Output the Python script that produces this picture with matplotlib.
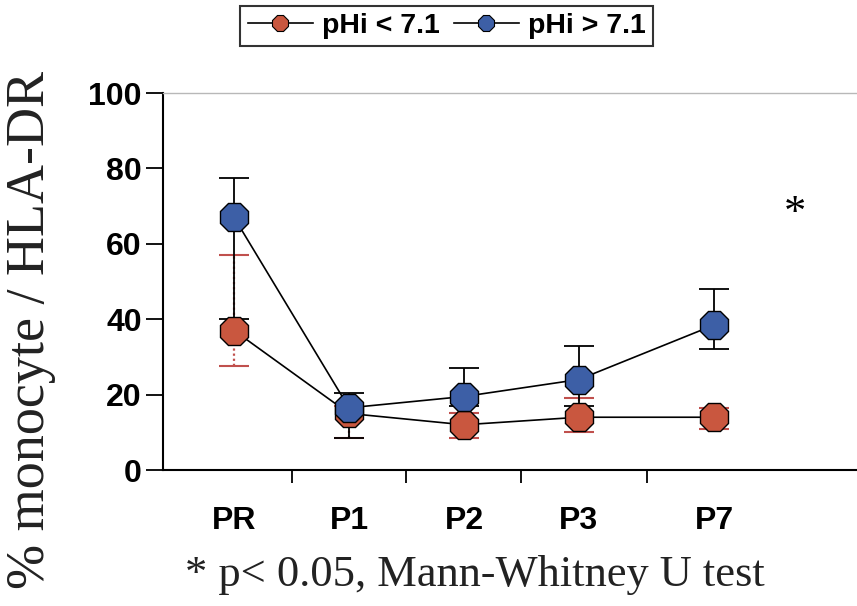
import numpy as np
import matplotlib.pyplot as plt
from matplotlib.lines import Line2D

# sampling days and group values (% monocyte / HLA-DR)
days = ['PR', 'P1', 'P2', 'P3', 'P7']
day_pos = [0, 1, 2, 3, 4.18]           # P7 sits a bit further out
low_mean = [37, 15, 12, 14, 14]        # pHi < 7.1
low_lo = [27.5, 8.5, 8.5, 10, 11]
low_hi = [57, 17, 15, 19, 16.5]
high_mean = [67, 16.5, 19.5, 24, 38.5]  # pHi > 7.1
high_lo = [40, 8.5, 17, 17, 32]
high_hi = [77.5, 20.5, 27, 33, 48]
yticks = [0, 20, 40, 60, 80, 100]

red = '#c9573f'
blue = '#3d5fa6'
red_err = '#c0504d'

plt.rcParams['font.family'] = ['Liberation Sans', 'DejaVu Sans']

fig = plt.figure(figsize=(8.57, 6.06), dpi=100)
ax = fig.add_axes([0.190, 0.2244, 0.81, 0.6221])

x = np.array(day_pos)
lm = np.array(low_mean)
hm = np.array(high_mean)

# error bars for pHi < 7.1 (dotted red)
eb = ax.errorbar(x, lm, yerr=[lm - np.array(low_lo), np.array(low_hi) - lm],
                 fmt='none', ecolor=red_err, elinewidth=1.6, capsize=11,
                 capthick=1.5, zorder=2)
eb[2][0].set_linestyle((0, (1, 1.3)))

# error bars for pHi > 7.1 (black)
ax.errorbar(x, hm, yerr=[hm - np.array(high_lo), np.array(high_hi) - hm],
            fmt='none', ecolor='black', elinewidth=1.3, capsize=11,
            capthick=1.3, zorder=2)

ax.plot(x, lm, color='black', lw=1.2, marker='8', markersize=22,
        markerfacecolor=red, markeredgecolor='black', markeredgewidth=1.0,
        zorder=3)
ax.plot(x, hm, color='black', lw=1.2, marker='8', markersize=22,
        markerfacecolor=blue, markeredgecolor='black', markeredgewidth=1.0,
        zorder=4)

ax.set_xlim(-0.62, 5.42)
ax.set_ylim(0, 100)
ax.set_yticks(yticks)
ax.set_yticklabels([str(v) for v in yticks], fontsize=23, fontweight='bold')
ax.set_xticks(x)
ax.set_xticklabels(days, fontsize=23, fontweight='bold')
ax.set_xticks((x[:-1] + x[1:]) / 2, minor=True)
ax.tick_params(axis='x', which='major', length=0, pad=26)
ax.tick_params(axis='x', which='minor', length=9, width=1.3, direction='out')
ax.tick_params(axis='y', length=12, width=1.3, direction='out', pad=3)

for s in ['left', 'bottom']:
    ax.spines[s].set_linewidth(1.5)
ax.spines['right'].set_visible(False)
ax.spines['top'].set_color('#b8b8b8')
ax.spines['top'].set_linewidth(1.0)

# significance mark at P7
ax.text(x[-1] + 0.7, 68, '*', fontsize=32, family='Liberation Serif',
        ha='center', va='center')

fig.text(0.036, 0.455, '% monocyte / HLA-DR', rotation=90, fontsize=39,
         family='Liberation Serif', ha='center', va='center', color='#222222')
fig.text(0.554, 0.051, '* p< 0.05, Mann-Whitney U test', fontsize=32,
         family='Liberation Serif', ha='center', va='center', color='#222222')

handles = [
    Line2D([], [], color='black', lw=1.2, marker='8', markersize=12,
           markerfacecolor=red, markeredgecolor='black', markeredgewidth=0.8),
    Line2D([], [], color='black', lw=1.2, marker='8', markersize=12,
           markerfacecolor=blue, markeredgecolor='black', markeredgewidth=0.8),
]
leg = fig.legend(handles, ['pHi < 7.1', 'pHi > 7.1'], loc='center',
                 bbox_to_anchor=(0.521, 0.957), ncol=2, fancybox=False,
                 frameon=True, edgecolor='black', handlelength=2.3,
                 handletextpad=0.3, columnspacing=0.5, borderpad=0.25,
                 prop={'size': 20.5, 'weight': 'bold'})
leg.get_frame().set_linewidth(1.5)

fig.savefig('out.png', dpi=100)
